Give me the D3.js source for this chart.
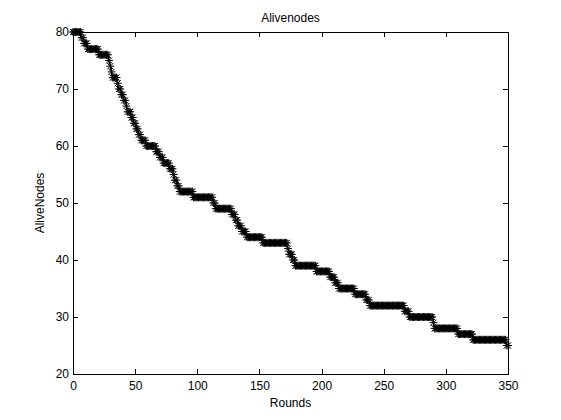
<!DOCTYPE html>
<html>
<head>
<meta charset="utf-8">
<script src="https://cdn.jsdelivr.net/npm/d3@7"></script>
<style>
  body { margin: 0; background: #fff; }
  text { font-family: Arial, "Liberation Sans", sans-serif; }
</style>
</head>
<body>
<svg id="alive-nodes"></svg>
<script>
// step data: round where each level starts, and the number of alive nodes
const stepStarts = [0, 7, 9, 12, 21, 29, 30, 31, 32, 36, 37, 39, 41, 43, 44, 47, 49, 51, 53, 55,
  59, 67, 70, 73, 78, 81, 82, 84, 86, 97, 113, 115, 128, 131, 133, 136, 140, 153, 173, 174,
  177, 179, 196, 207, 211, 214, 227, 236, 239, 267, 271, 290, 291, 310, 322, 349];
const stepLevels = [80, 79, 78, 77, 76, 75, 74, 73, 72, 71, 70, 69, 68, 67, 66, 65, 64, 63, 62, 61,
  60, 59, 58, 57, 56, 55, 54, 53, 52, 51, 50, 49, 48, 47, 46, 45, 44, 43, 42, 41,
  40, 39, 38, 37, 36, 35, 34, 33, 32, 31, 30, 29, 28, 27, 26, 25];
const lastRound = 350;
const xTicks = [0, 50, 100, 150, 200, 250, 300, 350];
const yTicks = [20, 30, 40, 50, 60, 70, 80];

const width = 561, height = 420;
const margin = { top: 32, right: 53, bottom: 46, left: 73 };

const svg = d3.select("#alive-nodes").attr("width", width).attr("height", height);

// one point per round
const points = [];
stepStarts.forEach((s, i) => {
  const end = i + 1 < stepStarts.length ? stepStarts[i + 1] : lastRound + 1;
  for (let r = s; r < end; r++) points.push({ round: r, alive: stepLevels[i] });
});

const x = d3.scaleLinear().domain([0, 350]).range([margin.left, width - margin.right]);
const y = d3.scaleLinear().domain([20, 80]).range([height - margin.bottom, margin.top]);

// axes box
svg.append("rect")
  .attr("x", margin.left).attr("y", margin.top)
  .attr("width", width - margin.left - margin.right)
  .attr("height", height - margin.top - margin.bottom)
  .attr("fill", "#fff").attr("stroke", "#000").attr("shape-rendering", "crispEdges");

const tickLen = 5;
const axisB = svg.append("g").attr("transform", `translate(0,${height - margin.bottom})`)
  .call(d3.axisBottom(x).tickValues(xTicks).tickSizeInner(-tickLen).tickSizeOuter(0).tickPadding(7));
const axisT = svg.append("g").attr("transform", `translate(0,${margin.top})`)
  .call(d3.axisTop(x).tickValues(xTicks).tickSizeInner(-tickLen).tickSizeOuter(0).tickFormat(""));
const axisL = svg.append("g").attr("transform", `translate(${margin.left},0)`)
  .call(d3.axisLeft(y).tickValues(yTicks).tickSizeInner(-tickLen).tickSizeOuter(0).tickPadding(4));
const axisR = svg.append("g").attr("transform", `translate(${width - margin.right},0)`)
  .call(d3.axisRight(y).tickValues(yTicks).tickSizeInner(-tickLen).tickSizeOuter(0).tickFormat(""));

[axisB, axisT, axisL, axisR].forEach(g => {
  g.select(".domain").remove();
  g.selectAll("line").attr("stroke", "#000").attr("shape-rendering", "crispEdges");
  g.selectAll("text").attr("font-size", "12px").attr("fill", "#000")
    .attr("font-family", "Arial, 'Liberation Sans', sans-serif");
});

// line
svg.append("path")
  .datum(points)
  .attr("fill", "none").attr("stroke", "#000").attr("stroke-width", 1)
  .attr("d", d3.line().x(d => x(d.round)).y(d => y(d.alive)));

// asterisk markers
const m = 4, md = 3;
const star = `M${-m},0H${m}M0,${-m}V${m}M${-md},${-md}L${md},${md}M${-md},${md}L${md},${-md}`;
svg.append("g")
  .selectAll("path")
  .data(points)
  .join("path")
  .attr("transform", d => `translate(${x(d.round)},${y(d.alive)})`)
  .attr("d", star)
  .attr("fill", "none").attr("stroke", "#000").attr("stroke-width", 1);

// labels
svg.append("text")
  .attr("x", (margin.left + width - margin.right) / 2).attr("y", 22)
  .attr("text-anchor", "middle").attr("font-size", "12px")
  .text("Alivenodes");

svg.append("text")
  .attr("x", (margin.left + width - margin.right) / 2).attr("y", 407)
  .attr("text-anchor", "middle").attr("font-size", "12px")
  .text("Rounds");

svg.append("text")
  .attr("transform", `translate(44,${(margin.top + height - margin.bottom) / 2}) rotate(-90)`)
  .attr("text-anchor", "middle").attr("font-size", "12px")
  .text("AliveNodes");
</script>
</body>
</html>
